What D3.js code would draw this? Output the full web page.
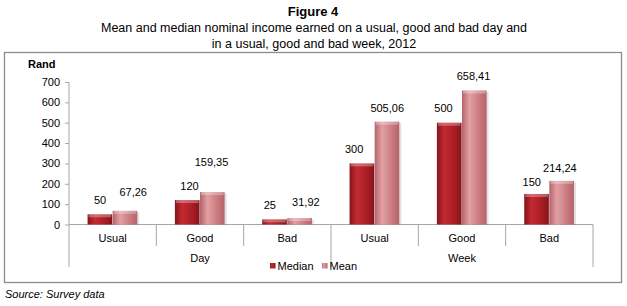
<!DOCTYPE html>
<html>
<head>
<meta charset="utf-8">
<script src="https://cdn.jsdelivr.net/npm/d3@7"></script>
<style>
  body { margin: 0; background: #fff; }
  svg text { font-family: "Liberation Sans", Arial, sans-serif; fill: #000; }
</style>
</head>
<body>
<svg id="chart" width="627" height="306"></svg>
<script>
// data
var groups = ["Day", "Week"];
var categories = ["Usual", "Good", "Bad"];
var series = ["Median", "Mean"];
var medianValues = [50, 120, 25, 300, 500, 150];
var meanValues = [67.26, 159.35, 31.92, 505.06, 658.41, 214.24];
var yTicks = [0, 100, 200, 300, 400, 500, 600, 700];

// label nudges (px) to mimic the hand-placed labels of the original
var medianNudge = [[0, 0], [2, 0], [-5, 0], [-8, 0], [-6, 1], [-5, -2]];
var meanNudge = [[8, 5], [-1, 16], [6, 2], [0, 0], [-1, 0], [-2, -1]];

var locale = d3.formatLocale({ decimal: ",", thousands: " ", grouping: [3], currency: ["", ""] });
var fmt = (d) => Number.isInteger(d) ? String(d) : locale.format(".2f")(d);

var rows = [];
groups.forEach((g, gi) => {
  categories.forEach((c, ci) => {
    var i = gi * categories.length + ci;
    rows.push({ key: g + "|" + c, group: g, cat: c, i: i,
      vals: [ { s: "Median", v: medianValues[i], n: medianNudge[i] },
              { s: "Mean", v: meanValues[i], n: meanNudge[i] } ] });
  });
});

var svg = d3.select("#chart");

// gradients for the bevelled bars
var defs = svg.append("defs");
var colors = {
  Median: ["#84141a", "#c42a31", "#a61c23"],
  Mean: ["#b4636a", "#e2a0a3", "#c7777b"]
};
series.forEach((s) => {
  var g = defs.append("linearGradient").attr("id", "grad" + s)
    .attr("x1", 0).attr("x2", 1).attr("y1", 0).attr("y2", 0);
  g.append("stop").attr("offset", "0%").attr("stop-color", colors[s][0]);
  g.append("stop").attr("offset", "30%").attr("stop-color", colors[s][1]);
  g.append("stop").attr("offset", "75%").attr("stop-color", colors[s][2]);
  g.append("stop").attr("offset", "100%").attr("stop-color", colors[s][0]);
});

// titles
svg.append("text").attr("x", 313).attr("y", 16).attr("text-anchor", "middle")
  .style("font-size", "13px").style("font-weight", "bold").text("Figure 4");
svg.append("text").attr("x", 314).attr("y", 32).attr("text-anchor", "middle")
  .style("font-size", "12.5px")
  .text("Mean and median nominal income earned on a usual, good and bad day and");
svg.append("text").attr("x", 314).attr("y", 48).attr("text-anchor", "middle")
  .style("font-size", "12.5px").text("in a usual, good and bad week, 2012");

// frame
svg.append("rect").attr("x", 4.5).attr("y", 52.5).attr("width", 617).attr("height", 230)
  .attr("fill", "none").attr("stroke", "#8c8c8c").attr("stroke-width", 1.3);

// scales
var yScale = d3.scaleLinear().domain([0, 700]).range([224.5, 82]);
var xScale = d3.scaleBand().domain(rows.map((d) => d.key)).range([69, 593]).padding(0);
var sub = d3.scaleBand().domain(series).range([0, xScale.bandwidth()])
  .paddingInner(0).paddingOuter(0.74);

// y axis
var yAxis = d3.axisLeft(yScale).tickValues(yTicks).tickSize(4).tickPadding(5);
var yG = svg.append("g").attr("transform", "translate(69,0)").call(yAxis);
yG.select(".domain").remove();
yG.selectAll(".tick line").attr("stroke", "#a6a6a6");
yG.selectAll(".tick text").style("font-family", null).style("font-size", "11px").attr("fill", "#000");
svg.append("line").attr("x1", 69).attr("x2", 69).attr("y1", 82).attr("y2", 267)
  .attr("stroke", "#a6a6a6");

// y title
svg.append("text").attr("x", 28).attr("y", 68).style("font-size", "11px")
  .style("font-weight", "bold").text("Rand");

// x axis baseline and separators
svg.append("line").attr("x1", 69).attr("x2", 593).attr("y1", 224.5).attr("y2", 224.5)
  .attr("stroke", "#a6a6a6");
rows.forEach((d, i) => {
  var xr = xScale(d.key) + xScale.bandwidth();
  var end = (i + 1) % categories.length === 0 ? 267 : 246;
  svg.append("line").attr("x1", xr).attr("x2", xr).attr("y1", 224.5).attr("y2", end)
    .attr("stroke", "#a6a6a6");
});

// category labels
svg.append("g").selectAll("text").data(rows).enter().append("text")
  .attr("x", (d) => xScale(d.key) + xScale.bandwidth() / 2)
  .attr("y", 242).attr("text-anchor", "middle").style("font-size", "11px")
  .text((d) => d.cat);

// group labels
svg.append("g").selectAll("text").data(groups).enter().append("text")
  .attr("x", (g) => {
    var keys = categories.map((c) => g + "|" + c);
    return (xScale(keys[0]) + xScale(keys[keys.length - 1]) + xScale.bandwidth()) / 2;
  })
  .attr("y", 262).attr("text-anchor", "middle").style("font-size", "11px")
  .text((g) => g);

// bars
var cat = svg.append("g").selectAll("g").data(rows).enter().append("g")
  .attr("transform", (d) => "translate(" + xScale(d.key) + ",0)");

var bar = cat.selectAll("g").data((d) => d.vals).enter().append("g");

// soft shadow
bar.append("rect")
  .attr("x", (d) => sub(d.s) + 1.5)
  .attr("y", (d) => yScale(d.v) + 1.5)
  .attr("width", sub.bandwidth())
  .attr("height", (d) => yScale(0) - yScale(d.v) - 1.5)
  .attr("fill", "#000").attr("opacity", 0.12);

bar.append("rect")
  .attr("x", (d) => sub(d.s))
  .attr("y", (d) => yScale(d.v))
  .attr("width", sub.bandwidth() - 0.5)
  .attr("height", (d) => yScale(0) - yScale(d.v))
  .attr("fill", (d) => "url(#grad" + d.s + ")");

// top bevel
bar.append("rect")
  .attr("x", (d) => sub(d.s) + 1)
  .attr("y", (d) => yScale(d.v))
  .attr("width", sub.bandwidth() - 2.5)
  .attr("height", (d) => Math.min(3, yScale(0) - yScale(d.v)))
  .attr("fill", "#fff").attr("opacity", 0.3);

// value labels
bar.append("text")
  .attr("x", (d) => sub(d.s) + sub.bandwidth() / 2 + d.n[0])
  .attr("y", (d) => yScale(d.v) - 14 - d.n[1])
  .attr("dy", "0.35em")
  .attr("text-anchor", "middle").style("font-size", "11px")
  .text((d) => fmt(d.v));

// legend
var leg = svg.append("g").selectAll("g").data(series).enter().append("g")
  .attr("transform", (d, i) => "translate(" + (270 + i * 52) + ",263)");
leg.append("rect").attr("width", 5.5).attr("height", 5.5)
  .attr("fill", (d) => "url(#grad" + d + ")");
leg.append("text").attr("x", 7.5).attr("y", 7).style("font-size", "11px").text((d) => d);

// source
svg.append("text").attr("x", 5).attr("y", 298).style("font-size", "11px")
  .style("font-style", "italic").text("Source: Survey data");
</script>
</body>
</html>
